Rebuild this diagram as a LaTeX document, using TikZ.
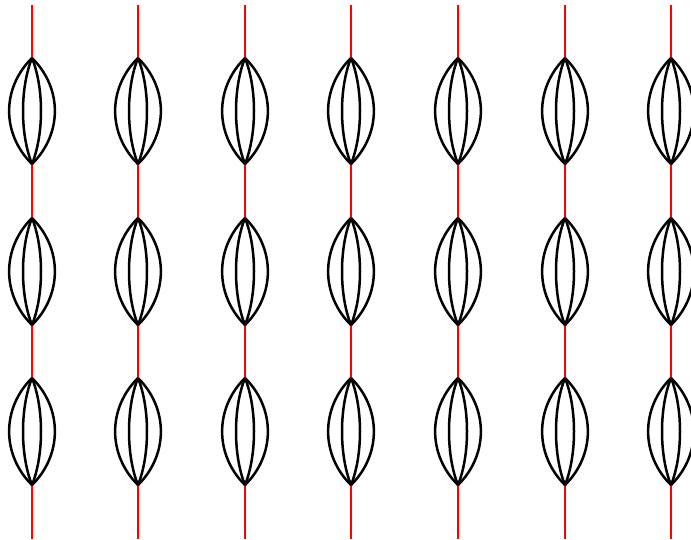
\documentclass[tikz,border=0pt]{standalone}
\begin{document}
\begin{tikzpicture}[x=1pt,y=-1pt,
  redline/.style={red, line width=2.2pt},
  lensline/.style={black, line width=2.5pt, line join=round}]
\useasboundingbox (0,0) rectangle (691,539);
\clip (0,0) rectangle (691,539);
\foreach \cx in {32,138,245,351,458,565,671}{
  % red segments
  \draw[redline] (\cx,5) -- (\cx,58);
  \draw[redline] (\cx,164) -- (\cx,218);
  \draw[redline] (\cx,325) -- (\cx,378);
  \draw[redline] (\cx,485) -- (\cx,539);
  \foreach \t/\b in {58/164, 218/325, 378/485}{
    \pgfmathsetmacro{\ta}{\t+30}
    \pgfmathsetmacro{\ba}{\b-30}
    \coordinate (top) at (\cx,\t);
    \coordinate (bot) at (\cx,\b);
    \foreach \d in {-30.5,-12,12,30.5}{
      \draw[lensline] (top) .. controls (\cx+\d,\ta) and (\cx+\d,\ba) .. (bot);
    }
  }
}
\end{tikzpicture}
\end{document}
